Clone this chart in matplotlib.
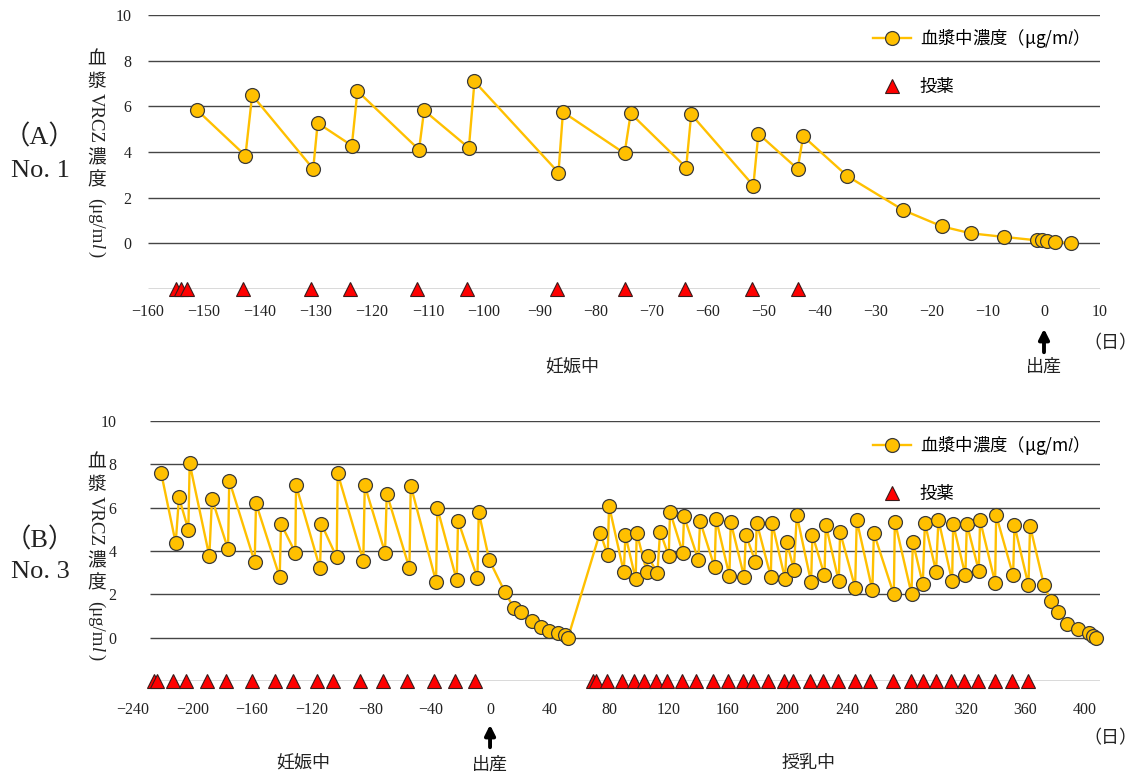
import matplotlib
matplotlib.use("Agg")
import matplotlib.pyplot as plt

plt.rcParams["font.family"] = ["Liberation Serif", "Noto Sans CJK JP", "DejaVu Sans"]
plt.rcParams["mathtext.fontset"] = "stix"

JP = ["Noto Sans CJK JP", "DejaVu Sans"]
SERIF = ["Liberation Serif", "Noto Sans CJK JP"]
C_LINE = "#FFC000"
C_DOSE = "#FF0000"
C_GRID = "#454545"
C_TEXT = "#222222"
DOSE_LEVEL = -2

# --- (A) No.1 : days from delivery, plasma VRCZ (ug/ml), dosing days ---
a_day = [-151.3, -142.6, -141.4, -130.5, -129.7, -123.6, -122.6, -111.6, -110.7,
         -102.7, -101.7, -86.7, -85.9, -74.9, -73.8, -63.9, -63.0, -51.9, -51.0,
         -44.0, -43.0, -35.1, -25.1, -18.2, -13.1, -7.1, -1.2, -0.3, 0.6, 1.9, 4.8]
a_conc = [5.85, 3.84, 6.49, 3.26, 5.27, 4.28, 6.67, 4.10, 5.82,
          4.18, 7.09, 3.10, 5.75, 3.94, 5.69, 3.32, 5.65, 2.53, 4.80,
          3.26, 4.69, 2.94, 1.45, 0.74, 0.44, 0.28, 0.13, 0.13, 0.12, 0.08, 0.0]
a_dose = [-155.0, -154.1, -153.0, -143.0, -130.9, -124.0, -112.0, -103.1,
          -87.0, -74.9, -64.1, -52.1, -44.0]
a_xticks = list(range(-160, 11, 10))

# --- (B) No.3 ---
b_day = [-221.0, -211.3, -209.1, -202.8, -201.9, -188.7, -186.9, -176.1, -175.3,
         -158.2, -157.3, -141.4, -140.5, -130.9, -130.4, -114.3, -113.4, -103.1,
         -102.4, -85.2, -84.2, -70.6, -69.4,
         -54.2, -53.3, -36.3, -35.4, -22.4, -21.5, -8.5, -7.6, -0.5, 10.1, 16.1,
         21.1, 28.2, 34.1, 39.9, 45.7, 50.6, 52.4,
         73.9, 79.1, 80.0, 89.9, 91.0, 97.9, 98.6, 105.3, 106.0, 112.5, 114.3,
         120.1, 121.0, 129.5, 130.4, 140.0, 141.2, 151.0, 151.9, 160.9, 161.8,
         170.8, 171.9, 178.4, 179.3, 188.7, 189.6,
         198.3, 199.5, 204.2, 206.2, 215.8, 216.7, 224.8, 225.7, 234.4, 235.3,
         245.4, 246.5, 257.0, 258.0, 271.4, 272.1, 283.3, 284.2, 290.9, 292.3,
         299.8, 301.4, 310.6, 311.3, 319.5, 320.5, 328.5, 329.4, 339.5, 340.2,
         351.6, 352.5, 361.9, 363.0, 372.4, 376.9, 381.6, 388.1, 395.5, 402.5,
         405.1, 407.2]
b_conc = [7.58, 4.37, 6.47, 4.98, 8.04, 3.76, 6.41, 4.08, 7.25,
          3.49, 6.20, 2.80, 5.25, 3.93, 7.03, 3.20, 5.25, 3.71,
          7.58, 3.55, 7.03, 3.93, 6.64,
          3.20, 7.02, 2.59, 5.97, 2.65, 5.40, 2.75, 5.79, 3.58, 2.09, 1.37,
          1.19, 0.76, 0.49, 0.30, 0.21, 0.12, 0.0,
          4.85, 3.82, 6.09, 3.03, 4.73, 2.69, 4.85, 3.04, 3.76, 2.98, 4.90,
          3.78, 5.81, 3.93, 5.60, 3.59, 5.37, 3.24, 5.49, 2.86, 5.33,
          2.80, 4.75, 3.50, 5.30, 2.82, 5.30,
          2.71, 4.42, 3.14, 5.65, 2.56, 4.75, 2.88, 5.21, 2.60, 4.87,
          2.31, 5.42, 2.19, 4.83, 2.00, 5.36, 2.02, 4.42, 2.48, 5.30,
          3.05, 5.45, 2.60, 5.24, 2.88, 5.24, 3.10, 5.42, 2.54, 5.65,
          2.88, 5.19, 2.42, 5.15, 2.41, 1.70, 1.19, 0.63, 0.38, 0.20,
          0.10, 0.0]
b_dose = [-225.7, -224.1, -213.1, -204.6, -190.0, -177.4, -159.8, -144.5,
          -132.6, -116.5, -105.3, -87.4, -72.1, -55.6, -37.6, -23.7, -9.9,
          69.4, 71.3, 78.4, 89.0, 97.0, 103.8, 111.6, 119.2, 129.1, 138.5,
          150.1, 160.2, 169.9, 177.0, 187.1, 197.6, 203.9, 214.9, 224.1, 233.8,
          245.4, 255.7, 270.7, 282.8, 290.9, 299.8, 309.7, 318.9, 327.9, 339.5,
          351.0, 361.7]
b_xticks = list(range(-240, 401, 40))

yticks = [0, 2, 4, 6, 8, 10]
conc_label = "血漿中濃度（μg/m$\\it{l}$）"

W, H = 1137, 778
fig = plt.figure(figsize=(W / 100, H / 100), dpi=100)
renderer = fig.canvas.get_renderer()


def px_axes(left, top, right, bottom):
    return fig.add_axes([left / W, 1 - bottom / H, (right - left) / W, (bottom - top) / H])


def panel(ax, day, conc, dose, xticks, xlim, grid_from, xpad):
    ax.set_xlim(*xlim)
    ax.set_ylim(-2, 10)
    ax.hlines(range(-2, 11, 2), grid_from, xlim[1], color=C_GRID, lw=1.0, zorder=1)
    line, = ax.plot(day, conc, color=C_LINE, lw=1.7, marker="o", ms=10,
                    mfc=C_LINE, mec="#3a3a3a", mew=0.9, zorder=3, clip_on=False)
    tri, = ax.plot(dose, [DOSE_LEVEL] * len(dose), ls="none", marker="^", ms=9.5,
                   mfc=C_DOSE, mec="#3a1a1a", mew=0.8, zorder=4, clip_on=False)
    for s in ax.spines.values():
        s.set_visible(False)
    ax.set_yticks(yticks)
    ax.set_xticks(xticks)
    ax.tick_params(length=0, labelsize=11.5, colors=C_TEXT)
    ax.tick_params(axis="x", pad=xpad)
    ax.tick_params(axis="y", pad=12)
    return line, tri


def ylabel_vertical(top, xc=97):
    # Japanese vertical label: kanji upright, Latin runs turned sideways.
    # Sideways runs sit with their baseline left of the column centre.
    pieces = [("血", 0, 1, {}), ("漿", 0, 1, {}), ("VRCZ", -90, 4, {}),
              ("濃", 0, 1, {}), ("度", 0, 8, {}), ("(μg/m", -90, 1, {}),
              ("l", -90, 1, {"style": "italic"}), (")", -90, 0, {})]
    y = top
    for s, rot, gap, extra in pieces:
        if rot == 0:
            t = fig.text(xc / W, 1 - y / H, s, ha="center", va="top",
                         fontsize=13.5, family=JP, color=C_TEXT)
        else:
            t = fig.text((xc - 6) / W, 1 - y / H, s, rotation=rot,
                         rotation_mode="anchor", ha="left", va="baseline",
                         fontsize=13.5, family=["Liberation Serif"],
                         color=C_TEXT, **extra)
        y += t.get_window_extent(renderer).height + gap


def fig_text(x, y, s, **kw):
    kw.setdefault("family", JP)
    kw.setdefault("fontsize", 13)
    fig.text(x / W, 1 - y / H, s, ha="center", va="center", color=C_TEXT, **kw)


def legend(ax, handles, top):
    ax.legend(handles, [conc_label, "投薬"], loc="upper left",
              bbox_to_anchor=(873 / W, 1 - top / H), bbox_transform=fig.transFigure,
              frameon=False, borderpad=0, borderaxespad=0, labelspacing=1.6,
              handlelength=2.2, handletextpad=0.5, numpoints=1,
              prop={"family": JP, "size": 12.5})


def birth_arrow(ax, tip, tail, text_y):
    ax.annotate("", xy=(0, H - tip), xytext=(0, H - tail),
                xycoords=("data", "figure pixels"), textcoords=("data", "figure pixels"),
                arrowprops=dict(arrowstyle="-|>", color="black", lw=2.8, mutation_scale=15))
    ax.annotate("出産", xy=(0, H - text_y), xycoords=("data", "figure pixels"),
                ha="center", va="center", fontsize=13, family=JP, color=C_TEXT)


# (A) No.1
ax1 = px_axes(148, 15, 1100, 289)
h1 = panel(ax1, a_day, a_conc, a_dose, a_xticks, (-160, 10), -160, 11)
legend(ax1, h1, 27)
birth_arrow(ax1, 326, 355, 367)
ylabel_vertical(49)
fig_text(40, 137, "（A）", family=SERIF, fontsize=19)
fig_text(40, 171, "No. 1", family=["Liberation Serif"], fontsize=19)
fig_text(1110, 343, "（日）")
fig_text(572, 367, "妊娠中")

# (B) No.3
ax2 = px_axes(133, 421, 1100, 681)
h2 = panel(ax2, b_day, b_conc, b_dose, b_xticks, (-240, 410), -228.5, 15)
legend(ax2, h2, 434)
birth_arrow(ax2, 722, 750, 765)
ylabel_vertical(452)
fig_text(40, 540, "（B）", family=SERIF, fontsize=19)
fig_text(40, 572, "No. 3", family=["Liberation Serif"], fontsize=19)
fig_text(1110, 738, "（日）")
fig_text(303, 763, "妊娠中")
fig_text(809, 763, "授乳中")

fig.savefig("out.png", dpi=100)
